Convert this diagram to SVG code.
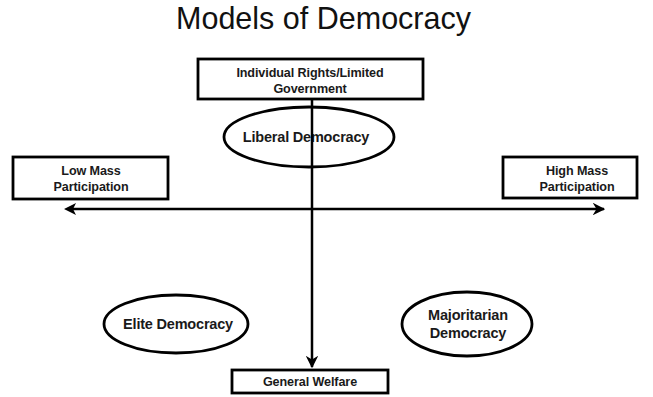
<svg xmlns="http://www.w3.org/2000/svg" width="653" height="397" viewBox="0 0 653 397">
<style>
.box{fill:#fff;stroke:#000;stroke-width:2.8}
.ell{fill:#fff;stroke:#000;stroke-width:2.8}
.t{font-family:"Liberation Sans",Arial,sans-serif;font-size:12.6px;font-weight:bold;fill:#1a1a1a;text-anchor:middle;letter-spacing:-0.1px}
.te{font-family:"Liberation Sans",Arial,sans-serif;font-size:14.5px;font-weight:bold;fill:#1a1a1a;text-anchor:middle;letter-spacing:-0.2px}
.ln{stroke:#000;stroke-width:2.5;fill:none}
</style>
<defs>
<marker id="ah" viewBox="0 0 10 10" refX="9" refY="5" markerWidth="5" markerHeight="5" orient="auto" markerUnits="strokeWidth">
<path d="M0,0 L10,5 L0,10 L3,5 Z" fill="#000"/>
</marker>
</defs>
<rect width="653" height="397" fill="#fff"/>
<text x="323.5" y="29" font-family="Liberation Sans,Arial,sans-serif" font-size="30.5" fill="#111" text-anchor="middle">Models of Democracy</text>
<g id="liberal">
<ellipse class="ell" cx="309" cy="137" rx="85" ry="30"/>
<text class="te" x="306" y="142">Liberal Democracy</text>
</g>
<g id="connectors">
<line class="ln" x1="312" y1="99" x2="312" y2="367" marker-end="url(#ah)"/>
<line class="ln" x1="70" y1="209" x2="604" y2="209" marker-end="url(#ah)"/>
<path d="M64,209 L76,203 L73,209 L76,215 Z" fill="#000"/>
</g>
<g id="top">
<rect class="box" x="198" y="59" width="225" height="40"/>
<text class="t" x="310" y="77">Individual Rights/Limited</text>
<text class="t" x="310" y="93">Government</text>
</g>
<g id="low">
<rect class="box" x="13" y="157" width="155" height="42"/>
<text class="t" x="91" y="175">Low Mass</text>
<text class="t" x="91" y="191">Participation</text>
</g>
<g id="high">
<rect class="box" x="503" y="157" width="134" height="41"/>
<text class="t" x="577" y="175">High Mass</text>
<text class="t" x="577" y="191">Participation</text>
</g>
<g id="elite">
<ellipse class="ell" cx="176" cy="324" rx="72" ry="29"/>
<text class="te" x="178" y="329">Elite Democracy</text>
</g>
<g id="majoritarian">
<ellipse class="ell" cx="467" cy="324" rx="65" ry="32"/>
<text class="te" x="468" y="320">Majoritarian</text>
<text class="te" x="468" y="338">Democracy</text>
</g>
<g id="welfare">
<rect class="box" x="232" y="370" width="156" height="23"/>
<text class="t" x="310" y="386">General Welfare</text>
</g>
</svg>
